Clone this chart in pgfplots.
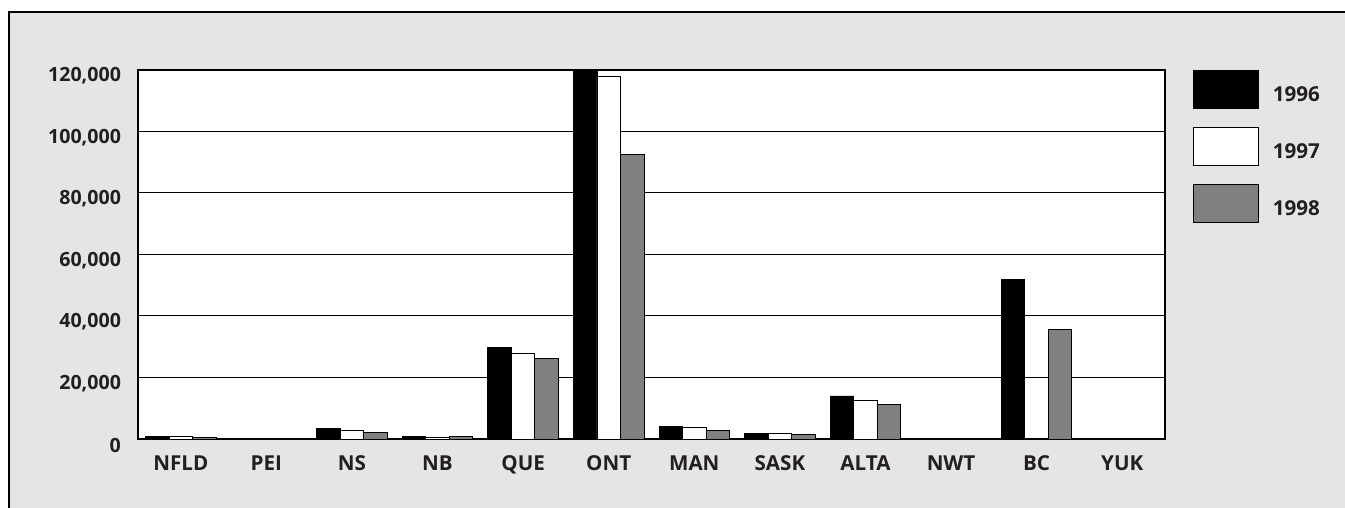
\documentclass[border=0pt]{standalone}
\usepackage{fontspec}
\setmainfont{Open Sans}
\usepackage{pgfplots}
\usepackage{pgfplotstable}
\pgfplotsset{compat=1.18}
\definecolor{bg}{HTML}{E5E5E5}
\definecolor{barg}{HTML}{808080}
\definecolor{txt}{HTML}{231F20}
\pgfplotstableread{
x y96 y97 y98
0 800 700 600
1 200 150 150
2 3300 2800 2200
3 800 600 800
4 29700 27700 26100
5 120000 118000 92600
6 4100 3800 2900
7 1950 1700 1600
8 14000 12700 11300
9 100 100 100
10 51800 100 35500
11 100 100 100
}\datatable
\begin{document}
\begin{tikzpicture}
\useasboundingbox (0,0) rectangle (672.5pt,254pt);
\fill[white] (0,0) rectangle (672.5pt,254pt);
\fill[bg] (4.5pt,0) rectangle (672.5pt,248pt);
\draw[line width=0.6pt] (4.5pt,0) -- (4.5pt,248pt) -- (672.5pt,248pt);
\begin{axis}[
  at={(69pt,34.5pt)}, anchor=south west,
  scale only axis, width=513.5pt, height=184.5pt,
  axis background/.style={fill=white},
  axis line style={line width=1pt, black},
  xmin=-0.5, xmax=11.5, ymin=0, ymax=120000,
  xtick=data,
  xticklabels={NFLD,PEI,NS,NB,QUE,ONT,MAN,SASK,ALTA,NWT,BC,YUK},
  ytick={0,20000,40000,60000,80000,100000,120000},
  yticklabels={0,{20,000},{40,000},{60,000},{80,000},{100,000},{120,000}},
  scaled y ticks=false,
  major tick length=0pt,
  ymajorgrids,
  grid style={line width=0.5pt, black},
  ticklabel style={text=txt},
  yticklabel style={xshift=-5pt, yshift=-3pt, font=\bfseries\fontsize{9.8}{11}\selectfont},
  xticklabel style={yshift=-5pt, font=\bfseries\fontsize{10.3}{11}\selectfont},
  ybar=0pt, bar width=11.75pt,
  legend style={at={(1.027,1.0)}, anchor=north west, draw=none, fill=none,
    inner sep=0pt, row sep=9pt, font=\bfseries\fontsize{10.3}{11}\selectfont, text=txt,
    /tikz/every odd column/.append style={column sep=5pt}},
  legend image code/.code={\draw[#1] (0pt,-6.5pt) rectangle (32.5pt,12.5pt);},
]
\addplot[fill=black, draw=black, line width=0.4pt] table[x=x,y=y96]{\datatable};
\addplot[fill=white, draw=black, line width=0.4pt] table[x=x,y=y97]{\datatable};
\addplot[fill=barg, draw=black, line width=0.4pt] table[x=x,y=y98]{\datatable};
\legend{1996,1997,1998}
\end{axis}
\end{tikzpicture}
\end{document}
